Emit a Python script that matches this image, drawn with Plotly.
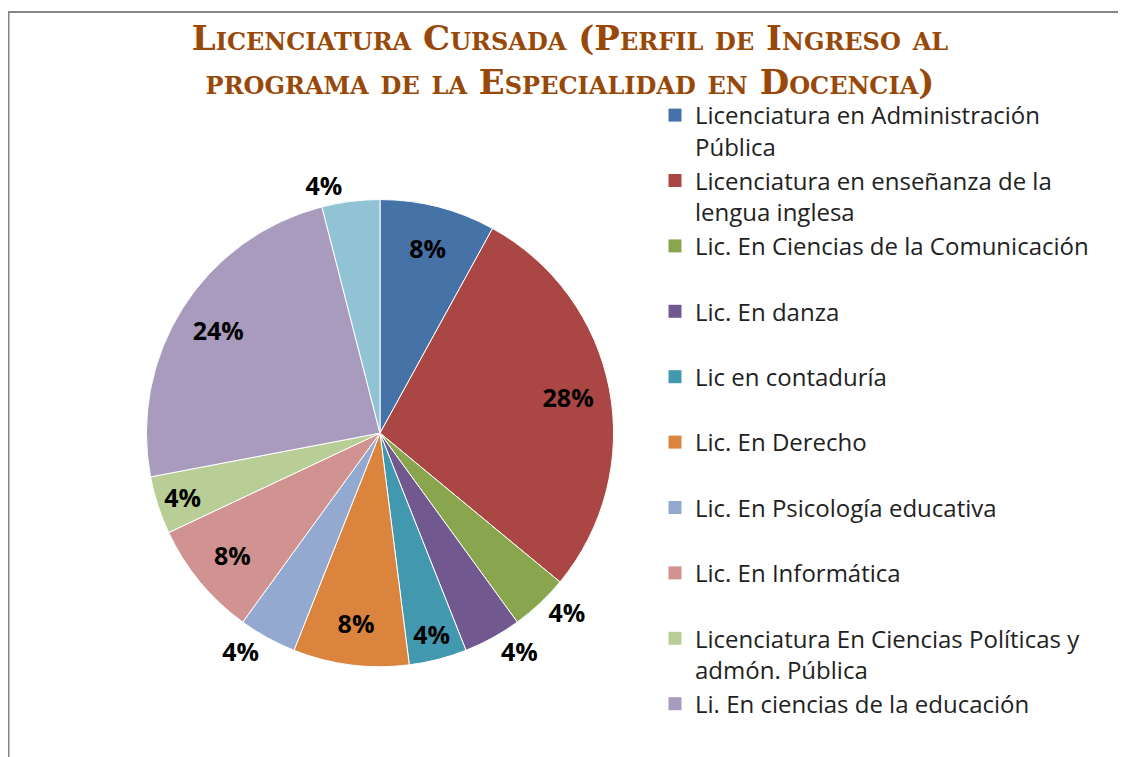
import plotly.graph_objects as go

labels = [
    "Licenciatura en Administración Pública",
    "Licenciatura en enseñanza de la lengua inglesa",
    "Lic. En Ciencias de la Comunicación",
    "Lic. En danza",
    "Lic en contaduría",
    "Lic. En Derecho",
    "Lic. En Psicología educativa",
    "Lic. En Informática",
    "Licenciatura En Ciencias Políticas y admón. Pública",
    "Li. En ciencias de la educación",
    "Otra licenciatura",
]
values = [8, 28, 4, 4, 4, 8, 4, 8, 4, 24, 4]
legend_text = [
    "Licenciatura en Administración<br>Pública",
    "Licenciatura en enseñanza de la<br>lengua inglesa",
    "Lic. En Ciencias de la Comunicación<br> ",
    "Lic. En danza<br> ",
    "Lic en contaduría<br> ",
    "Lic. En Derecho<br> ",
    "Lic. En Psicología educativa<br> ",
    "Lic. En Informática<br> ",
    "Licenciatura En Ciencias Políticas y<br>admón. Pública",
    "Li. En ciencias de la educación<br> ",
]
colors = ["#4572A7", "#AA4643", "#89A54E", "#71588F", "#4198AF", "#DB843D",
          "#93A9CF", "#D19392", "#B9CD96", "#A99BBD", "#92C3D4"]
text_pos = ["inside", "inside", "outside", "outside", "inside", "inside",
            "outside", "inside", "inside", "inside", "outside"]

# page has an 8px body margin; work in page pixels and convert
OFF = 8
FW, FH = 1126 - OFF, 757 - OFF


def px(x):
    return (x - OFF) / FW


def py(y):
    return 1 - (y - OFF) / FH


cx, cy, half = 380, 443, 239
dom = dict(x=[px(cx - half), px(cx + half)], y=[py(cy + half), py(cy - half)])
label_font = dict(family="Open Sans", size=25, color="black", weight="bold")

fig = go.Figure()
# coloured pie (outside text kept transparent so both pies get the same radius)
fig.add_trace(go.Pie(
    labels=labels, values=values, sort=False, direction="clockwise", rotation=0,
    marker=dict(colors=colors, line=dict(color="white", width=1)),
    texttemplate="%{percent:.0%}",
    textposition=[p if p == "outside" else "none" for p in text_pos],
    textfont=dict(family="Open Sans", size=25, color="rgba(0,0,0,0)"),
    showlegend=False, hoverinfo="label+percent", domain=dom,
))
# transparent ring carrying the percentage labels further out
fig.add_trace(go.Pie(
    labels=labels, values=values, sort=False, direction="clockwise", rotation=0,
    hole=0.64,
    marker=dict(colors=["rgba(0,0,0,0)"] * len(values), line=dict(width=0)),
    texttemplate="%{percent:.0%}", textposition=text_pos,
    insidetextorientation="horizontal",
    textfont=label_font, outsidetextfont=label_font,
    showlegend=False, hoverinfo="skip", domain=dom,
))
for name, col in zip(legend_text, colors):
    fig.add_trace(go.Scatter(x=[None], y=[None], mode="markers", name=name,
                             marker=dict(symbol="square", size=13, color=col)))

fig.update_layout(
    width=FW, height=FH, margin=dict(l=0, r=0, t=0, b=0),
    paper_bgcolor="white", plot_bgcolor="white",
    xaxis=dict(visible=False), yaxis=dict(visible=False),
    title=dict(
        text="Licenciatura Cursada (Perfil de Ingreso al<br>programa de la Especialidad en Docencia)",
        x=px(570), xanchor="center", y=py(50), yanchor="top",
        font=dict(family="DejaVu Serif", size=34, color="#984807",
                  weight="bold", variant="small-caps"),
    ),
    legend=dict(x=px(655), y=py(95), xanchor="left", yanchor="top", valign="top",
                font=dict(family="Open Sans", size=24, color="#222222"),
                itemwidth=30, tracegroupgap=0, bgcolor="rgba(0,0,0,0)"),
    uniformtext=dict(minsize=25, mode="show"),
    shapes=[dict(type="rect", xref="paper", yref="paper",
                 x0=px(8.5), x1=1.05, y0=-0.05, y1=py(12),
                 line=dict(color="#868686", width=2), fillcolor="rgba(0,0,0,0)",
                 layer="below")],
)
fig.write_html("out.html")
